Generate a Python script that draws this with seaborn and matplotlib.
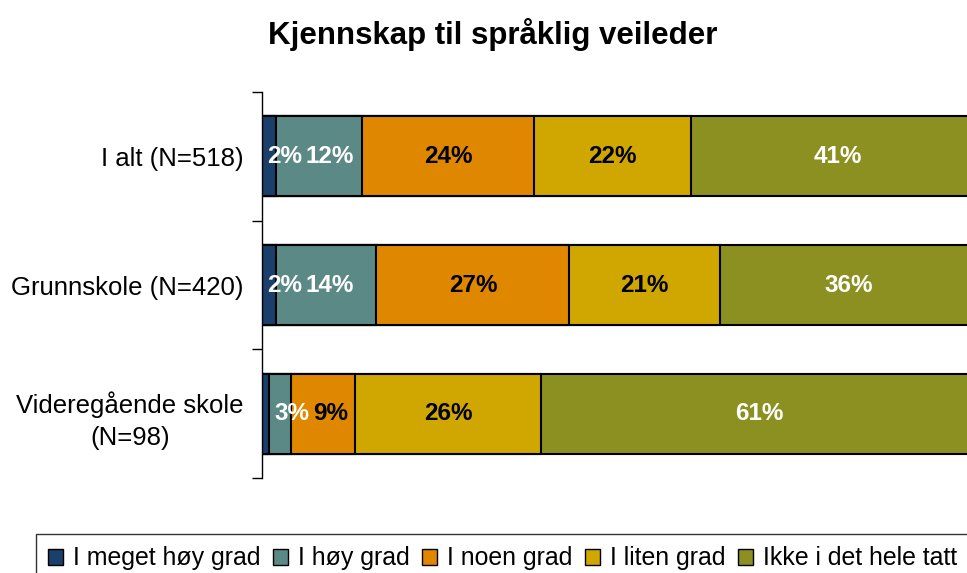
import numpy as np
import matplotlib
matplotlib.use("Agg")
import matplotlib.pyplot as plt
from matplotlib.patches import Patch
from matplotlib.transforms import offset_copy
import seaborn as sns

# Data
categories = ["I alt (N=518)", "Grunnskole (N=420)", "Videregående skole\n(N=98)"]
series = ["I meget høy grad", "I høy grad", "I noen grad", "I liten grad", "Ikke i det hele tatt"]
meget_hoy = [2, 2, 1]
hoy = [12, 14, 3]
noen = [24, 27, 9]
liten = [22, 21, 26]
ikke = [41, 36, 61]
show_label = [[True, True, False], [True, True, True], [True, True, True],
              [True, True, True], [True, True, True]]

colors = ["#1B3F6B", "#5B8A86", "#E08700", "#CFA700", "#8C9021"]
label_colors = ["white", "white", "black", "black", "white"]

sns.set_style("white")
plt.rcParams['font.family'] = ['Liberation Sans', 'DejaVu Sans']
plt.rcParams['text.color'] = 'black'
plt.rcParams['ytick.color'] = 'black'
plt.rcParams['ytick.labelcolor'] = 'black'

fig = plt.figure(figsize=(9.67, 5.73), dpi=100)
ax = fig.add_axes([262 / 967, 1 - 478 / 573, 715 / 967, 386 / 573])

values = np.array([meget_hoy, hoy, noen, liten, ikke], dtype=float)
cum = values.cumsum(axis=0)

# draw the longest cumulative bars first, shorter ones on top
for i in range(len(series) - 1, -1, -1):
    sns.barplot(x=cum[i], y=categories, orient="h", color=colors[i],
                edgecolor="black", linewidth=1.5, width=0.62, saturation=1,
                ax=ax)

ax.set_xlim(0, 100)
ax.set_ylim(2.5, -0.5)
ax.set_xlabel("")
ax.set_ylabel("")
ax.set_xticks([])
for s in ["top", "right", "bottom"]:
    ax.spines[s].set_visible(False)
ax.spines["left"].set_color("black")
ax.spines["left"].set_linewidth(1)

# segment labels; tiny segments get left-anchored labels and the next
# label is pushed right if they would collide (roughly what Excel does)
renderer = fig.canvas.get_renderer()
for j in range(len(categories)):
    prev = None
    for i in range(len(series)):
        if not show_label[i][j]:
            continue
        start = cum[i][j] - values[i][j]
        txt = f"{int(values[i][j])}%"
        if values[i][j] < 5:
            t = ax.annotate(txt, (start, j), xytext=(4, 0), textcoords="offset points",
                            ha="left", va="center", fontsize=17.5, fontweight="bold",
                            color=label_colors[i])
        else:
            t = ax.text(start + values[i][j] / 2, j, txt,
                        ha="center", va="center", fontsize=17.5, fontweight="bold",
                        color=label_colors[i])
            if prev is not None:
                pb = prev.get_window_extent(renderer)
                tb = t.get_window_extent(renderer)
                if tb.x0 < pb.x1 + 3:
                    shift = (pb.x1 + 3 - tb.x0) * 72 / fig.dpi
                    t.set_transform(offset_copy(ax.transData, fig=fig, x=shift,
                                                y=0, units="points"))
        prev = t

ax.set_yticks(range(len(categories)))
ax.set_yticklabels(categories, fontsize=18.5, color="black")
for t in ax.get_yticklabels():
    t.set_multialignment("center")
    t.set_linespacing(1.45)
ax.tick_params(axis="y", which="major", length=0, pad=13)
ax.set_yticks([-0.5, 0.5, 1.5, 2.5], minor=True)
ax.tick_params(axis="y", which="minor", length=7, width=1, color="black",
               direction="out", left=True)

fig.suptitle("Kjennskap til språklig veileder", x=493 / 967, y=1 - 18 / 573,
             fontsize=22.5, fontweight="bold", va="top", color="black")

handles = [Patch(facecolor=c, edgecolor="black", linewidth=1) for c in colors]
leg = fig.legend(handles, series, loc="upper left",
                 bbox_to_anchor=(36 / 967, 1 - 534 / 573), ncol=5,
                 fontsize=17.9, frameon=True, fancybox=False, edgecolor="black",
                 handlelength=0.6, handleheight=0.6, handletextpad=0.4,
                 columnspacing=0.5, borderaxespad=0, borderpad=0.5)
leg.get_frame().set_linewidth(1)
for t in leg.get_texts():
    t.set_color("black")

fig.savefig("out.png", dpi=100)
